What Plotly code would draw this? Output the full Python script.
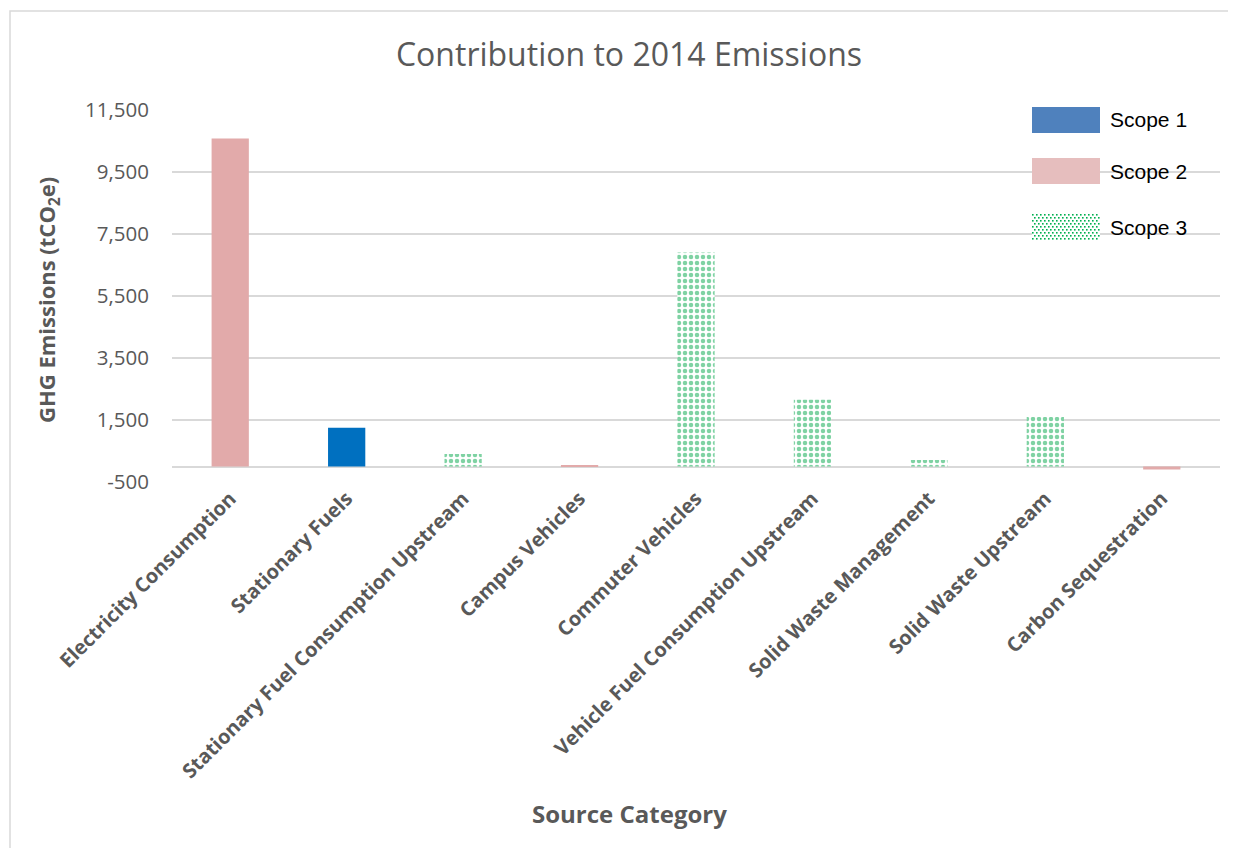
import base64
import plotly.graph_objects as go

categories = [
    "Electricity Consumption",
    "Stationary Fuels",
    "Stationary Fuel Consumption Upstream",
    "Campus Vehicles",
    "Commuter Vehicles",
    "Vehicle Fuel Consumption Upstream",
    "Solid Waste Management",
    "Solid Waste Upstream",
    "Carbon Sequestration",
]
scope1 = [None, 1250, None, None, None, None, None, None, None]
scope2 = [10580, None, None, 40, None, None, None, None, -100]
scope3 = [None, None, 400, None, 6900, 2150, 210, 1600, None]

series_names = ["Scope 1", "Scope 2", "Scope 3"]

y_tickvals = [-500, 1500, 3500, 5500, 7500, 9500, 11500]
y_ticktext = ["-500", "1,500", "3,500", "5,500", "7,500", "9,500", "11,500"]

GRAY = "#595959"
GRID = "#d9d9d9"
FONT = "Open Sans"
GREEN = "#00B050"

# page geometry (the page has an 8px body margin)
OFF = 8
W, H = 1236 - OFF, 848 - OFF
PL, PR, PT, PB = 172, 1220, 110, 482  # plot area in page pixels


def px(X):
    return (X - PL) / (PR - PL)


def py(Y):
    return (PB - Y) / (PB - PT)


fig = go.Figure()
fig.add_trace(go.Bar(
    name=series_names[0], x=categories, y=scope1, width=0.32,
    marker=dict(color="#0070C0", line=dict(width=0)),
))
fig.add_trace(go.Bar(
    name=series_names[1], x=categories, y=scope2, width=0.32,
    marker=dict(color="#E2AAAA", line=dict(width=0)),
))
fig.add_trace(go.Bar(
    name=series_names[2], x=categories, y=scope3, width=0.32,
    marker=dict(color="white", line=dict(width=0),
                pattern=dict(shape=".", fgcolor="#00A548", bgcolor="white",
                             size=6, solidity=0.45)),
))

fig.update_layout(
    width=W, height=H,
    barmode="overlay",
    paper_bgcolor="white", plot_bgcolor="white",
    margin=dict(l=PL - OFF, r=OFF + W - PR, t=PT - OFF, b=OFF + H - PB),
    title=dict(text="Contribution to 2014 Emissions", x=(629 - OFF) / W, xref="container",
               xanchor="center", y=1 - (55 - OFF) / H, yanchor="middle",
               font=dict(family=FONT, size=32, color=GRAY)),
    font=dict(family=FONT, color=GRAY),
    showlegend=False,
)
fig.update_xaxes(
    type="category", tickangle=-45, showgrid=False, showline=False,
    ticks="", tickfont=dict(family=FONT, size=20, color=GRAY, weight="bold"),
    automargin=False,
)
fig.update_yaxes(
    range=[-500, 11500], tickvals=y_tickvals, ticktext=y_ticktext,
    showgrid=True, gridcolor=GRID, gridwidth=1.5,
    zeroline=True, zerolinecolor=GRID, zerolinewidth=2,
    showline=False, ticks="", ticklabelstandoff=22,
    tickfont=dict(family=FONT, size=20.5, color=GRAY),
    automargin=False,
)

# axis titles
fig.add_annotation(text="<b>Source Category</b>", xref="paper", yref="paper",
                   x=px(629), y=py(813), showarrow=False, xanchor="center", yanchor="middle",
                   font=dict(family=FONT, size=24, color=GRAY))
fig.add_annotation(text="<b>GHG Emissions (tCO<sub>2</sub>e)</b>", xref="paper", yref="paper",
                   x=px(48), y=py(300), showarrow=False, textangle=-90,
                   xanchor="center", yanchor="middle",
                   font=dict(family=FONT, size=22, color=GRAY))

# legend (custom, large swatches like the reference)
legend_colors = ["#4F81BD", "#E6BEBE", None]
legend_top = [107, 158, 214]
sw_l, sw_r, sw_h = 1032, 1100, 26
for name, col, top in zip(series_names, legend_colors, legend_top):
    if col is not None:
        fig.add_shape(type="rect", xref="paper", yref="paper",
                      x0=px(sw_l), x1=px(sw_r), y0=py(top + sw_h), y1=py(top),
                      fillcolor=col, line=dict(width=0))
    else:
        dots = "".join(
            f'<rect x="{x + (2 if (r % 2) else 0)}" y="{r * 3}" width="1.6" height="1.6" fill="{GREEN}"/>'
            for r in range(9) for x in range(0, 68, 4)
        )
        svg = (f'<svg xmlns="http://www.w3.org/2000/svg" width="68" height="26" viewBox="0 0 68 26">'
               f'<rect width="68" height="26" fill="white"/>{dots}</svg>')
        src = "data:image/svg+xml;base64," + base64.b64encode(svg.encode()).decode()
        fig.add_layout_image(source=src, xref="paper", yref="paper",
                             x=px(sw_l), y=py(top), sizex=px(sw_r) - px(sw_l),
                             sizey=py(top) - py(top + sw_h), xanchor="left", yanchor="top",
                             sizing="stretch", layer="above")
    fig.add_annotation(text=name, xref="paper", yref="paper",
                       x=px(1108), y=py(top + sw_h / 2), showarrow=False,
                       xanchor="left", yanchor="middle",
                       font=dict(family="Liberation Sans, Arial", size=21, color="black"))

# outer chart border
fig.add_shape(type="rect", xref="paper", yref="paper",
              x0=px(10), x1=px(1250), y0=py(860), y1=py(11),
              line=dict(color=GRID, width=1.5), fillcolor="rgba(0,0,0,0)", layer="below")

fig.write_html("out.html")
